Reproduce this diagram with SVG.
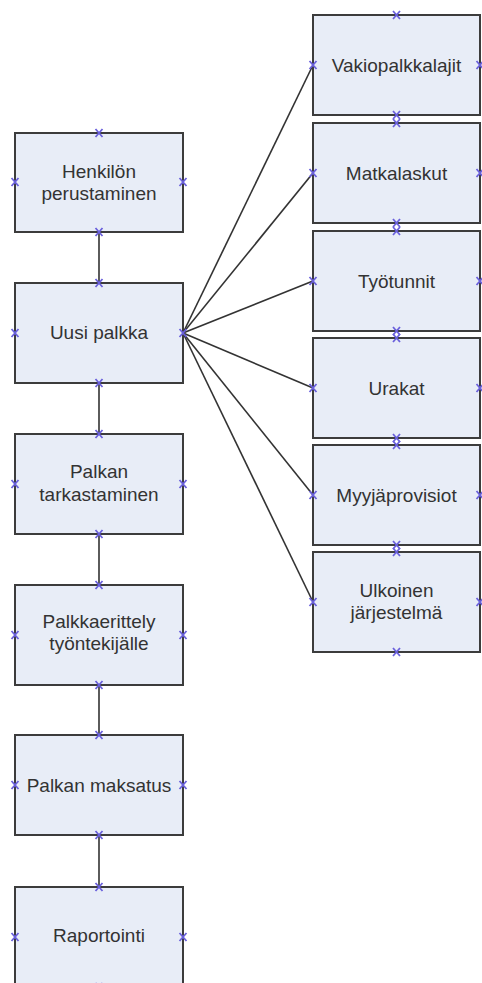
<svg xmlns="http://www.w3.org/2000/svg" xmlns:xlink="http://www.w3.org/1999/xlink" width="482" height="983" viewBox="0 0 482 983">
<style>
.box{fill:#e8edf7;stroke:#3c3c3c;stroke-width:2}
.lbl{font-family:"Liberation Sans",Arial,sans-serif;font-size:19px;fill:#333333;text-anchor:middle}
.con{stroke:#333333;stroke-width:1.6;fill:none}
.mk{stroke:#6a60dc;stroke-width:1.8;fill:none}
</style>
<defs>
<path id="x" class="mk" d="M-3.5,-4 L3.5,4 M-3.5,4 L3.5,-4"/>
</defs>
<rect width="482" height="983" fill="#ffffff"/>
<g id="connectors">
<line class="con" x1="99" y1="232" x2="99" y2="283"/>
<line class="con" x1="99" y1="383" x2="99" y2="434"/>
<line class="con" x1="99" y1="534" x2="99" y2="585"/>
<line class="con" x1="99" y1="685" x2="99" y2="735"/>
<line class="con" x1="99" y1="835" x2="99" y2="887"/>
<line class="con" x1="183" y1="333" x2="313" y2="65"/>
<line class="con" x1="183" y1="333" x2="313" y2="173"/>
<line class="con" x1="183" y1="333" x2="313" y2="281"/>
<line class="con" x1="183" y1="333" x2="313" y2="388"/>
<line class="con" x1="183" y1="333" x2="313" y2="495"/>
<line class="con" x1="183" y1="333" x2="313" y2="602"/>
</g>
<g id="henkilon">
<rect class="box" x="15" y="133" width="168" height="99"/>
<text class="lbl" x="99" y="178">Henkilön</text>
<text class="lbl" x="99" y="200">perustaminen</text>
<use xlink:href="#x" x="99" y="133"/><use xlink:href="#x" x="99" y="232"/><use xlink:href="#x" x="15" y="182"/><use xlink:href="#x" x="183" y="182"/>
</g>
<g id="uusi">
<rect class="box" x="15" y="283" width="168" height="100"/>
<text class="lbl" x="99" y="339">Uusi palkka</text>
<use xlink:href="#x" x="99" y="283"/><use xlink:href="#x" x="99" y="383"/><use xlink:href="#x" x="15" y="333"/><use xlink:href="#x" x="183" y="333"/>
</g>
<g id="tarkastaminen">
<rect class="box" x="15" y="434" width="168" height="100"/>
<text class="lbl" x="99" y="478">Palkan</text>
<text class="lbl" x="99" y="501">tarkastaminen</text>
<use xlink:href="#x" x="99" y="434"/><use xlink:href="#x" x="99" y="534"/><use xlink:href="#x" x="15" y="484"/><use xlink:href="#x" x="183" y="484"/>
</g>
<g id="erittely">
<rect class="box" x="15" y="585" width="168" height="100"/>
<text class="lbl" x="99" y="628">Palkkaerittely</text>
<text class="lbl" x="99" y="650">työntekijälle</text>
<use xlink:href="#x" x="99" y="585"/><use xlink:href="#x" x="99" y="685"/><use xlink:href="#x" x="15" y="635"/><use xlink:href="#x" x="183" y="635"/>
</g>
<g id="maksatus">
<rect class="box" x="15" y="735" width="168" height="100"/>
<text class="lbl" x="99" y="792">Palkan maksatus</text>
<use xlink:href="#x" x="99" y="735"/><use xlink:href="#x" x="99" y="835"/><use xlink:href="#x" x="15" y="785"/><use xlink:href="#x" x="183" y="785"/>
</g>
<g id="raportointi">
<rect class="box" x="15" y="887" width="168" height="100"/>
<text class="lbl" x="99" y="942">Raportointi</text>
<use xlink:href="#x" x="99" y="887"/><use xlink:href="#x" x="99" y="987"/><use xlink:href="#x" x="15" y="937"/><use xlink:href="#x" x="183" y="937"/>
</g>
<g id="vakio">
<rect class="box" x="313" y="15" width="167" height="100"/>
<text class="lbl" x="396.5" y="72">Vakiopalkkalajit</text>
<use xlink:href="#x" x="396.5" y="15"/><use xlink:href="#x" x="396.5" y="115"/><use xlink:href="#x" x="313" y="65"/><use xlink:href="#x" x="480" y="65"/>
</g>
<g id="matka">
<rect class="box" x="313" y="123" width="167" height="100"/>
<text class="lbl" x="396.5" y="180">Matkalaskut</text>
<use xlink:href="#x" x="396.5" y="123"/><use xlink:href="#x" x="396.5" y="223"/><use xlink:href="#x" x="313" y="173"/><use xlink:href="#x" x="480" y="173"/>
</g>
<g id="tyotunnit">
<rect class="box" x="313" y="231" width="167" height="100"/>
<text class="lbl" x="396.5" y="288">Työtunnit</text>
<use xlink:href="#x" x="396.5" y="231"/><use xlink:href="#x" x="396.5" y="331"/><use xlink:href="#x" x="313" y="281"/><use xlink:href="#x" x="480" y="281"/>
</g>
<g id="urakat">
<rect class="box" x="313" y="338" width="167" height="100"/>
<text class="lbl" x="396.5" y="395">Urakat</text>
<use xlink:href="#x" x="396.5" y="338"/><use xlink:href="#x" x="396.5" y="438"/><use xlink:href="#x" x="313" y="388"/><use xlink:href="#x" x="480" y="388"/>
</g>
<g id="myyja">
<rect class="box" x="313" y="445" width="167" height="100"/>
<text class="lbl" x="396.5" y="502">Myyjäprovisiot</text>
<use xlink:href="#x" x="396.5" y="445"/><use xlink:href="#x" x="396.5" y="545"/><use xlink:href="#x" x="313" y="495"/><use xlink:href="#x" x="480" y="495"/>
</g>
<g id="ulkoinen">
<rect class="box" x="313" y="552" width="167" height="100"/>
<text class="lbl" x="396.5" y="597">Ulkoinen</text>
<text class="lbl" x="396.5" y="619">järjestelmä</text>
<use xlink:href="#x" x="396.5" y="552"/><use xlink:href="#x" x="396.5" y="652"/><use xlink:href="#x" x="313" y="602"/><use xlink:href="#x" x="480" y="602"/>
</g>
</svg>
